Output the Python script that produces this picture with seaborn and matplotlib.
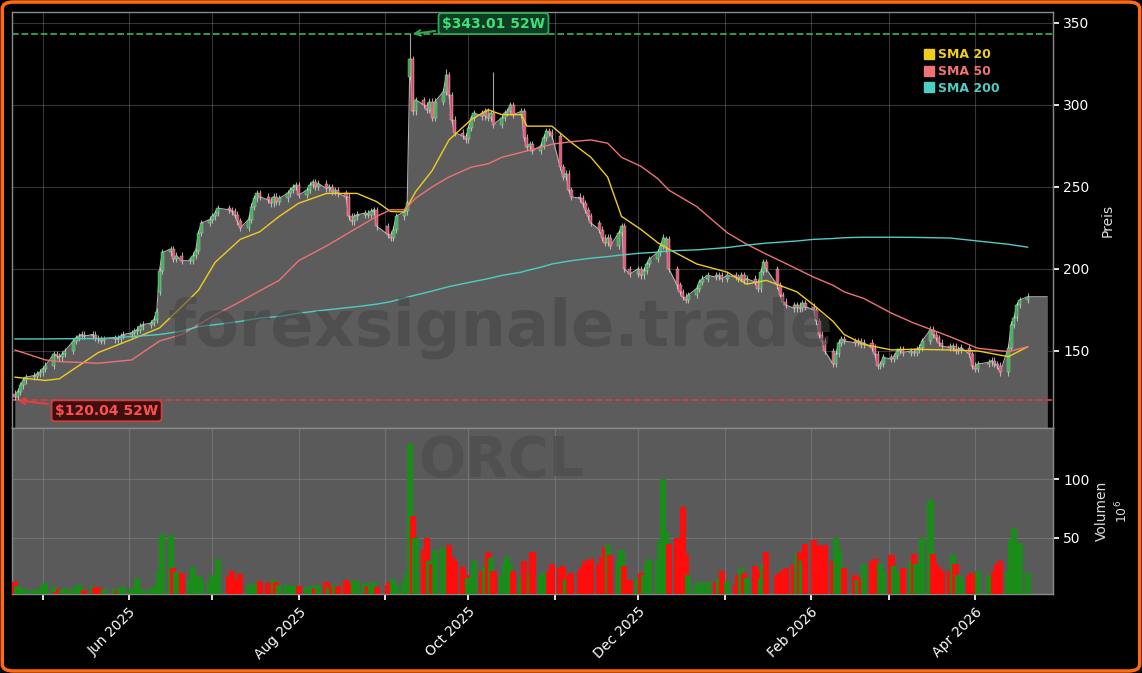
import numpy as np
import pandas as pd
import matplotlib
matplotlib.use("Agg")
import matplotlib.pyplot as plt
import matplotlib.dates as mdates
from matplotlib.patches import FancyBboxPatch
import seaborn as sns

sns.set_theme(style="dark")
plt.rcParams['font.family'] = ['DejaVu Sans']

ticker = "ORCL"
holidays = ["2025-05-26", "2025-06-19", "2025-07-04", "2025-09-01", "2025-11-27",
            "2025-12-25", "2026-01-01", "2026-01-19", "2026-02-16", "2026-04-03"]

close_weeks = [
    [122,125,129,132,134],[135,136,137,139,141],[148,147,146,148,150],[156,158,159,160,159],
    [160,158,157,156,157],[158,157,159,160],[161,162,163,165,166],[167,169,174,199,210],
    [212,206,208,205],[205,208,211,222,228],[230,232,234,237],[236,235,233,229,225],
    [230,238,243,246,244],[242,240,244,241,243],[246,248,250,251,245],[248,251,253,250,252],
    [249,250,247,248,246],[244,232,229,232,233],[234,233,235,236,226],[221,219,224,232],
    [235,240,328,296,303],[300,297,302,292,302],[308,318,306,291,283],[281,279,286,292,295],
    [293,296,292,295,288],[292,295,296,300,294],[296,280,274,276,272],[275,280,284,283,281],
    [262,256,258,248,244],[243,240,236,232,228],[224,219,216,219,214],[222,226,200,197],
    [200,196,199,203,206],[210,214,219,218,200],[190,186,183,181,184],[188,192,194,196],
    [195,196,194,196],[195,194,196,193,194],[192,188,198,204,200],[190,184,180,178],
    [176,178,176,179,177],[175,168,160,156,150],[142,148,155,157,156],[155,156,154,155],
    [152,148,141,142,146],[145,147,150,151,149],[150,149,151,152,156],[163,160,158,155,153],
    [152,153,150,151,152],[148,141,139,142],[143,144,142,141,137],[152,166,170,178,181],[183]]

volume_weeks = [
    [12,9,4,6,5],[5,4,6,9,11],[8,4,6,5,7],[6,8,10,7,5],[9,8,4,7,6],[6,5,7,8],[7,6,16,6,5],
    [6,8,10,22,53],[52,24,21,20],[15,25,12,17,14],[12,18,12,32],[17,22,14,12,19],
    [10,10,10,11,13],[11,8,14,12,10],[10,9,9,8,9],[8,8,9,7,10],[12,8,8,10,9],[14,7,11,14,12],
    [11,9,10,12,8],[10,12,15,9],[12,20,130,69,50],[40,50,30,28,40],[42,40,44,34,30],
    [25,18,16,14,30],[22,26,38,33,22],[18,28,34,28,22],[16,30,16,20,38],[18,20,16,22,28],
    [24,26,15,18,20],[22,25,30,28,32],[28,34,42,44,35],[30,40,26,14],[16,20,18,28,32],
    [30,47,100,55,45],[50,33,76,36,18],[10,12,8,12],[12,16,22,12],[10,18,24,20,16],
    [26,22,16,28,38],[18,20,22,24],[28,36,38,30,45],[48,44,43,42,44],[30,50,40,25,24],
    [18,14,16,28],[30,32,20,28,22],[35,26,20,18,24],[30,36,28,22,50],[82,36,28,24,22],
    [22,35,28,18,16],[18,20,16,22],[18,15,22,28,30],[22,48,58,42,46],[20]]

open_overrides = {"2025-04-21": 124, "2025-06-12": 186, "2025-09-10": 317, "2025-12-11": 212}
high_overrides = {"2025-09-10": 343.01, "2025-10-10": 320, "2025-09-23": 322}
low_overrides = {"2025-04-21": 120.04}

sma_dates = ["2025-04-21","2025-05-02","2025-05-07","2025-05-21","2025-06-02","2025-06-12","2025-06-20",
             "2025-06-26","2025-07-02","2025-07-11","2025-07-18","2025-07-25","2025-08-01","2025-08-11",
             "2025-08-22","2025-08-29","2025-09-03","2025-09-08","2025-09-12","2025-09-18","2025-09-24",
             "2025-10-02","2025-10-08","2025-10-13","2025-10-20","2025-10-22","2025-10-27","2025-10-31",
             "2025-11-07","2025-11-14","2025-11-20","2025-11-25","2025-12-02","2025-12-08","2025-12-12",
             "2025-12-22","2026-01-02","2026-01-09","2026-01-16","2026-01-27","2026-02-02","2026-02-09",
             "2026-02-13","2026-02-20","2026-03-02","2026-03-10","2026-03-23","2026-04-02","2026-04-13",
             "2026-04-20"]
sma20 = [134,132,133,149,157,164,177,187,204,218,222.6,232,240,246,246,241,235,234.7,247,260,278.6,
         291,297,294,294,287,287,287,277,268,256,232,224,216,212,203,198,190.7,193,186,178,168,160,154,
         150.6,151,150.6,150,146.5,152.6]
sma50 = [150.6,144.5,143.5,142.5,144.5,156,160,166,172,180,186.6,193,205,214,225,232,236,236,243,250,
         256,262,264,268,271,272,274,276,277.5,278.6,276.6,268,262.5,255,248,238,222,215,209,200,195,
         190,186,182,173,167,158.7,151.6,149.6,152.6]
sma200 = [157.3,157.3,157.4,157.5,158.7,160,162,164.8,166,168,170,171,173,175,177,178.5,180,182.3,
          184,186.5,189.2,192,194,196,198,199,201,203,205,206.5,207.5,208.5,209.6,210.2,211,211.6,
          213,214.5,215.7,217,218,218.5,219,219.3,219.3,219.2,218.8,217,215,213.2]

# --- assemble
close = [c for w in close_weeks for c in w]
volume = [v for w in volume_weeks for v in w]
days = pd.bdate_range("2025-04-21", "2026-04-30")
days = days[~days.isin(pd.to_datetime(holidays))][:len(close)]
df = pd.DataFrame({"date": days, "close": close, "volume": volume})
df["open"] = df["close"].shift(1)
for d, v in open_overrides.items():
    df.loc[df.date == pd.Timestamp(d), "open"] = v
df["high"] = df[["open", "close"]].max(axis=1) + 2
df["low"] = df[["open", "close"]].min(axis=1) - 2
for d, v in high_overrides.items():
    df.loc[df.date == pd.Timestamp(d), "high"] = v
for d, v in low_overrides.items():
    df.loc[df.date == pd.Timestamp(d), "low"] = v
df["up"] = df.close >= df.open
sma = pd.DataFrame({"date": pd.to_datetime(sma_dates), "SMA 20": sma20, "SMA 50": sma50, "SMA 200": sma200})

fig = plt.figure(figsize=(11.42, 6.73), dpi=100, facecolor="black")
ax = fig.add_axes([0.0105, 0.364, 0.9115, 0.618])
axv = fig.add_axes([0.0105, 0.117, 0.9115, 0.247], sharex=ax)
border = FancyBboxPatch((0.002, 0.003), 0.996, 0.994, boxstyle="round,pad=0,rounding_size=0.01",
                        transform=fig.transFigure, fill=False, edgecolor="#ff6a10", lw=2.5)
fig.patches.append(border)

ax.set_facecolor("black")
axv.set_facecolor("#5a5a5a")
ymin, ymax = 103, 356.5
ext_dates = list(df.date) + [pd.Timestamp("2026-04-27")]
ext_close = list(df.close) + [df.close.iloc[-1]]
ax.fill_between(ext_dates, ext_close, ymin, color="#5c5c5c", zorder=1, linewidth=0)
ax.plot(ext_dates, ext_close, color="#b0b0b0", lw=0.8, zorder=2)

upc, dnc = "#2db84a", "#f0506e"
ax.vlines(df.date, df.low, df.high, color="#cfcfcf", lw=0.8, alpha=0.8, zorder=3)
body_bottom = df[["open", "close"]].min(axis=1)
body_h = (df.close - df.open).abs().clip(lower=0.8)
ax.bar(df.date, body_h, bottom=body_bottom, width=1.1,
       color=np.where(df.up, upc, dnc), edgecolor="#dddddd", linewidth=0.3, alpha=0.85, zorder=4)

colors = {"SMA 20": "#f2cc1f", "SMA 50": "#f07272", "SMA 200": "#4ecdc4"}
for name, col in colors.items():
    sns.lineplot(data=sma, x="date", y=name, ax=ax, color=col, lw=1.0, zorder=5, legend=False)

hi_val, lo_val = 343.01, 120.04
ax.axhline(hi_val, color="#2eaa55", ls="--", lw=1.3, zorder=2)
ax.axhline(lo_val, color="#d04040", ls="--", lw=1.3, zorder=2)
hi_date = pd.Timestamp("2025-09-10")
lo_date = pd.Timestamp("2025-04-21")
ax.annotate(f"${hi_val:.2f} 52W", xy=(hi_date, hi_val), xytext=(hi_date + pd.Timedelta(days=30), 349.5),
            color="#3ee07a", fontsize=10, fontweight="bold", ha="center", va="center",
            bbox=dict(boxstyle="round,pad=0.25", fc="#0f3d22", ec="#2eaa55", lw=1.3),
            arrowprops=dict(arrowstyle="->", color="#2eaa55", lw=1.5), zorder=8)
ax.annotate(f"${lo_val:.2f} 52W", xy=(lo_date, lo_val), xytext=(lo_date + pd.Timedelta(days=33), 113.5),
            color="#ff5050", fontsize=10, fontweight="bold", ha="center", va="center",
            bbox=dict(boxstyle="round,pad=0.25", fc="#3d0f0f", ec="#d04040", lw=1.3),
            arrowprops=dict(arrowstyle="->", color="#e04040", lw=1.5), zorder=8)

ax.text(0.47, 0.24, "forexsignale.trade", transform=ax.transAxes, fontsize=46, fontweight="bold",
        color="#444444", alpha=0.55, ha="center", va="center", zorder=6)
axv.text(0.47, 0.80, ticker, transform=axv.transAxes, fontsize=40, fontweight="bold",
         color="#4e4e4e", alpha=0.8, ha="center", va="center", zorder=1)

axv.bar(df.date, df.volume, width=2.2, color=np.where(df.up, "#1a8c1a", "#ff0d0d"),
        linewidth=0, edgecolor="none", zorder=3)

ax.set_ylim(ymin, ymax)
axv.set_ylim(1.7, 144)
ax.set_xlim(pd.Timestamp("2025-04-20"), pd.Timestamp("2026-04-29"))

for a in (ax, axv):
    a.yaxis.tick_right()
    a.yaxis.set_label_position("right")
    a.grid(True, color="#9a9a9a", alpha=0.35, lw=0.8)
    a.tick_params(colors="white", labelsize=10, length=4, direction="out", left=False, right=True, bottom=True)
    for s in a.spines.values():
        s.set_color("#8a8a8a")
        s.set_linewidth(1)
ax.set_yticks([150, 200, 250, 300, 350])
axv.set_yticks([50, 100])
ax.set_ylabel("Preis", color="#dddddd", fontsize=10, labelpad=8)
axv.set_ylabel("Volumen", color="#dddddd", fontsize=10, labelpad=4)
axv.text(1.066, 0.5, r"$10^{6}$", transform=axv.transAxes, rotation=90, color="#dddddd",
         fontsize=9, ha="center", va="center")
ax.set_xlabel("")
axv.set_xlabel("")
plt.setp(ax.get_xticklabels(), visible=False)
ax.tick_params(axis="x", length=0)
axv.xaxis.set_major_locator(mdates.MonthLocator())
axv.xaxis.set_major_formatter(plt.FuncFormatter(
    lambda v, p: mdates.num2date(v).strftime("%b %Y") if mdates.num2date(v).month % 2 == 0 else ""))
plt.setp(axv.get_xticklabels(), rotation=45, ha="right", rotation_mode="anchor")

handles = [plt.Line2D([], [], marker="s", ls="", color=c, markersize=7) for c in colors.values()]
leg = ax.legend(handles, list(colors.keys()), loc="upper right", bbox_to_anchor=(0.96, 0.94),
                frameon=False, fontsize=9, handlelength=0.7, handletextpad=0.4, labelspacing=0.3)
for t, c in zip(leg.get_texts(), colors.values()):
    t.set_color(c)
    t.set_fontweight("bold")

fig.savefig("out.png", dpi=100, facecolor="black")
